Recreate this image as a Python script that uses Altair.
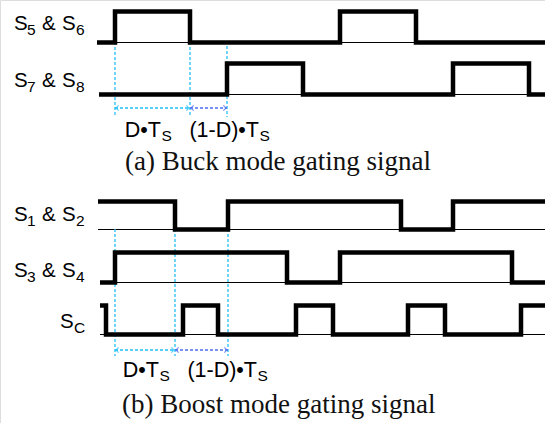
import altair as alt
import pandas as pd

W, H = 545, 423

# ---- signal edge times (time axis, same units as the chart width) and logic levels
s56_t = [97, 115, 190, 340, 416, 545]
s56_v = [0, 1, 0, 1, 0, 0]
s78_t = [99, 227, 303, 453, 529, 545]
s78_v = [0, 1, 0, 1, 0, 0]
s12_t = [98, 175, 228, 401, 453, 545]
s12_v = [1, 0, 1, 0, 1, 1]
s34_t = [100, 115, 287, 340, 512, 545]
s34_v = [0, 1, 0, 1, 0, 0]
sc_t = [100, 106, 183, 218, 296, 333, 408, 445, 521, 545]
sc_v = [1, 0, 1, 0, 1, 0, 1, 0, 1, 1]

# marker instants for the D*Ts / (1-D)*Ts annotations
buck_marks = [115, 190, 227]
boost_marks = [115, 175, 228]

# ---- layout (lane low / high levels)
lanes = {
    "s56": (42.5, 11.5, s56_t, s56_v),
    "s78": (94.5, 63.5, s78_t, s78_v),
    "s12": (229.5, 201.5, s12_t, s12_v),
    "s34": (282.5, 252.5, s34_t, s34_v),
    "sc": (334.5, 305.5, sc_t, sc_v),
}

xs = alt.Scale(domain=[0, W], nice=False, zero=False)
ys = alt.Scale(domain=[0, H], nice=False, zero=False, reverse=True)

step_rows, base_rows = [], []
for name, (lo, hi, ts, vs) in lanes.items():
    for t, v in zip(ts, vs):
        step_rows.append({"sig": name, "t": t, "y": lo - v * (lo - hi)})
    base_rows.append({"sig": name, "x1": ts[0], "x2": W, "y": lo})
steps = pd.DataFrame(step_rows)
bases = pd.DataFrame(base_rows)

base_layer = alt.Chart(bases).mark_rule(color="black", strokeWidth=1.1).encode(
    x=alt.X("x1:Q", scale=xs, axis=None), x2="x2:Q", y=alt.Y("y:Q", scale=ys, axis=None)
)

step_layer = alt.Chart(steps).mark_line(
    color="black", strokeWidth=4.5, interpolate="step-after", strokeJoin="miter", strokeCap="butt"
).encode(
    x=alt.X("t:Q", scale=xs, axis=None),
    y=alt.Y("y:Q", scale=ys, axis=None),
    detail="sig:N",
)

# ---- dashed guide lines
guide_rows = []
for i, m in enumerate(buck_marks):
    guide_rows.append({"x": m, "y1": 42 if i < 2 else 46, "y2": 117})
for m in boost_marks:
    guide_rows.append({"x": m, "y1": 229, "y2": 356})
guides = pd.DataFrame(guide_rows)
guide_layer = alt.Chart(guides).mark_rule(color="#22c0f8", strokeWidth=1.3, strokeDash=[3, 2]).encode(
    x=alt.X("x:Q", scale=xs, axis=None), y=alt.Y("y1:Q", scale=ys, axis=None), y2="y2:Q"
)

# ---- arrows
arrow_rows = [
    {"x1": buck_marks[0], "x2": buck_marks[1], "y": 108, "c": "a"},
    {"x1": buck_marks[1], "x2": buck_marks[2], "y": 108, "c": "b"},
    {"x1": boost_marks[0], "x2": boost_marks[1], "y": 350, "c": "a"},
    {"x1": boost_marks[1], "x2": boost_marks[2], "y": 350, "c": "b"},
]
arrows = pd.DataFrame(arrow_rows)
cscale = alt.Scale(domain=["a", "b"], range=["#22c0f8", "#4d6ef0"])
arrow_layer = alt.Chart(arrows).mark_rule(strokeWidth=1.3, strokeDash=[3, 2]).encode(
    x=alt.X("x1:Q", scale=xs, axis=None), x2="x2:Q", y=alt.Y("y:Q", scale=ys, axis=None),
    color=alt.Color("c:N", scale=cscale, legend=None),
)
head_rows = []
for r in arrow_rows:
    head_rows.append({"x": r["x1"] + 1, "y": r["y"], "c": r["c"], "d": "L"})
    head_rows.append({"x": r["x2"] - 1, "y": r["y"], "c": r["c"], "d": "R"})
heads = pd.DataFrame(head_rows)
left_head = alt.Chart(heads[heads.d == "L"]).mark_point(
    shape="M1,-1L0,0L1,1", size=28, strokeWidth=1.3, filled=False
).encode(
    x=alt.X("x:Q", scale=xs, axis=None), y=alt.Y("y:Q", scale=ys, axis=None),
    color=alt.Color("c:N", scale=cscale, legend=None),
)
right_head = alt.Chart(heads[heads.d == "R"]).mark_point(
    shape="M-1,-1L0,0L-1,1", size=28, strokeWidth=1.3, filled=False
).encode(
    x=alt.X("x:Q", scale=xs, axis=None), y=alt.Y("y:Q", scale=ys, axis=None),
    color=alt.Color("c:N", scale=cscale, legend=None),
)

# ---- signal name labels (pieces: text, x, baseline y, font size)
label_text = ["S", "5", "&", "S", "6",
              "S", "7", "&", "S", "8",
              "S", "1", "&", "S", "2",
              "S", "3", "&", "S", "4",
              "S", "C"]
label_x = [14, 27, 42, 62, 76,
           14, 27, 42, 62, 76,
           14, 27, 42, 62, 76,
           14, 27, 42, 62, 76,
           60, 74]
label_y = [30, 35, 30, 30, 35,
           87, 92, 87, 87, 92,
           221, 226, 221, 221, 226,
           277, 282, 277, 277, 282,
           328, 333]
label_fs = [20.5, 15.5, 20.5, 20.5, 15.5] * 4 + [20.5, 15.5]

labels = pd.DataFrame({"t": label_text, "x": label_x, "y": label_y, "fs": label_fs})
label_layer = alt.Chart(labels).mark_text(
    align="left", baseline="alphabetic", font="Liberation Sans", color="black"
).encode(
    x=alt.X("x:Q", scale=xs, axis=None), y=alt.Y("y:Q", scale=ys, axis=None),
    text="t:N", size=alt.Size("fs:Q", scale=None),
)

# ---- duration labels: main part ends where the subscript starts
dt_main = ["D•T", "(1-D)•T", "D•T", "(1-D)•T"]
dt_sub = ["S", "S", "S", "S"]
dt_x = [161, 259, 159, 257]
dt_y = [137, 137, 377, 377]

dts = pd.DataFrame({"m": dt_main, "s": dt_sub, "x": dt_x, "y": dt_y, "ys": [v + 4 for v in dt_y]})
dt_main_layer = alt.Chart(dts).mark_text(
    align="right", baseline="alphabetic", font="Liberation Sans", fontSize=21.5, color="black"
).encode(
    x=alt.X("x:Q", scale=xs, axis=None), y=alt.Y("y:Q", scale=ys, axis=None), text="m:N"
)
dt_sub_layer = alt.Chart(dts).mark_text(
    align="left", baseline="alphabetic", font="Liberation Sans", fontSize=15.5, color="black", dx=0.5
).encode(
    x=alt.X("x:Q", scale=xs, axis=None), y=alt.Y("ys:Q", scale=ys, axis=None), text="s:N"
)

captions = pd.DataFrame({
    "t": ["(a) Buck mode gating signal", "(b) Boost mode gating signal"],
    "x": [125, 122],
    "y": [170, 413],
})
cap_layer = alt.Chart(captions).mark_text(
    align="left", baseline="alphabetic", font="Liberation Serif", fontSize=27, color="#111"
).encode(
    x=alt.X("x:Q", scale=xs, axis=None), y=alt.Y("y:Q", scale=ys, axis=None), text="t:N"
)

chart = alt.layer(
    base_layer, guide_layer, arrow_layer, left_head, right_head, step_layer,
    label_layer, dt_main_layer, dt_sub_layer, cap_layer
).properties(
    width=W, height=H, autosize=alt.AutoSizeParams(type="none"), padding=0
).configure_view(stroke=None).configure(background="white")

chart.save("out.html", embed_options={"renderer": "svg", "actions": False})
